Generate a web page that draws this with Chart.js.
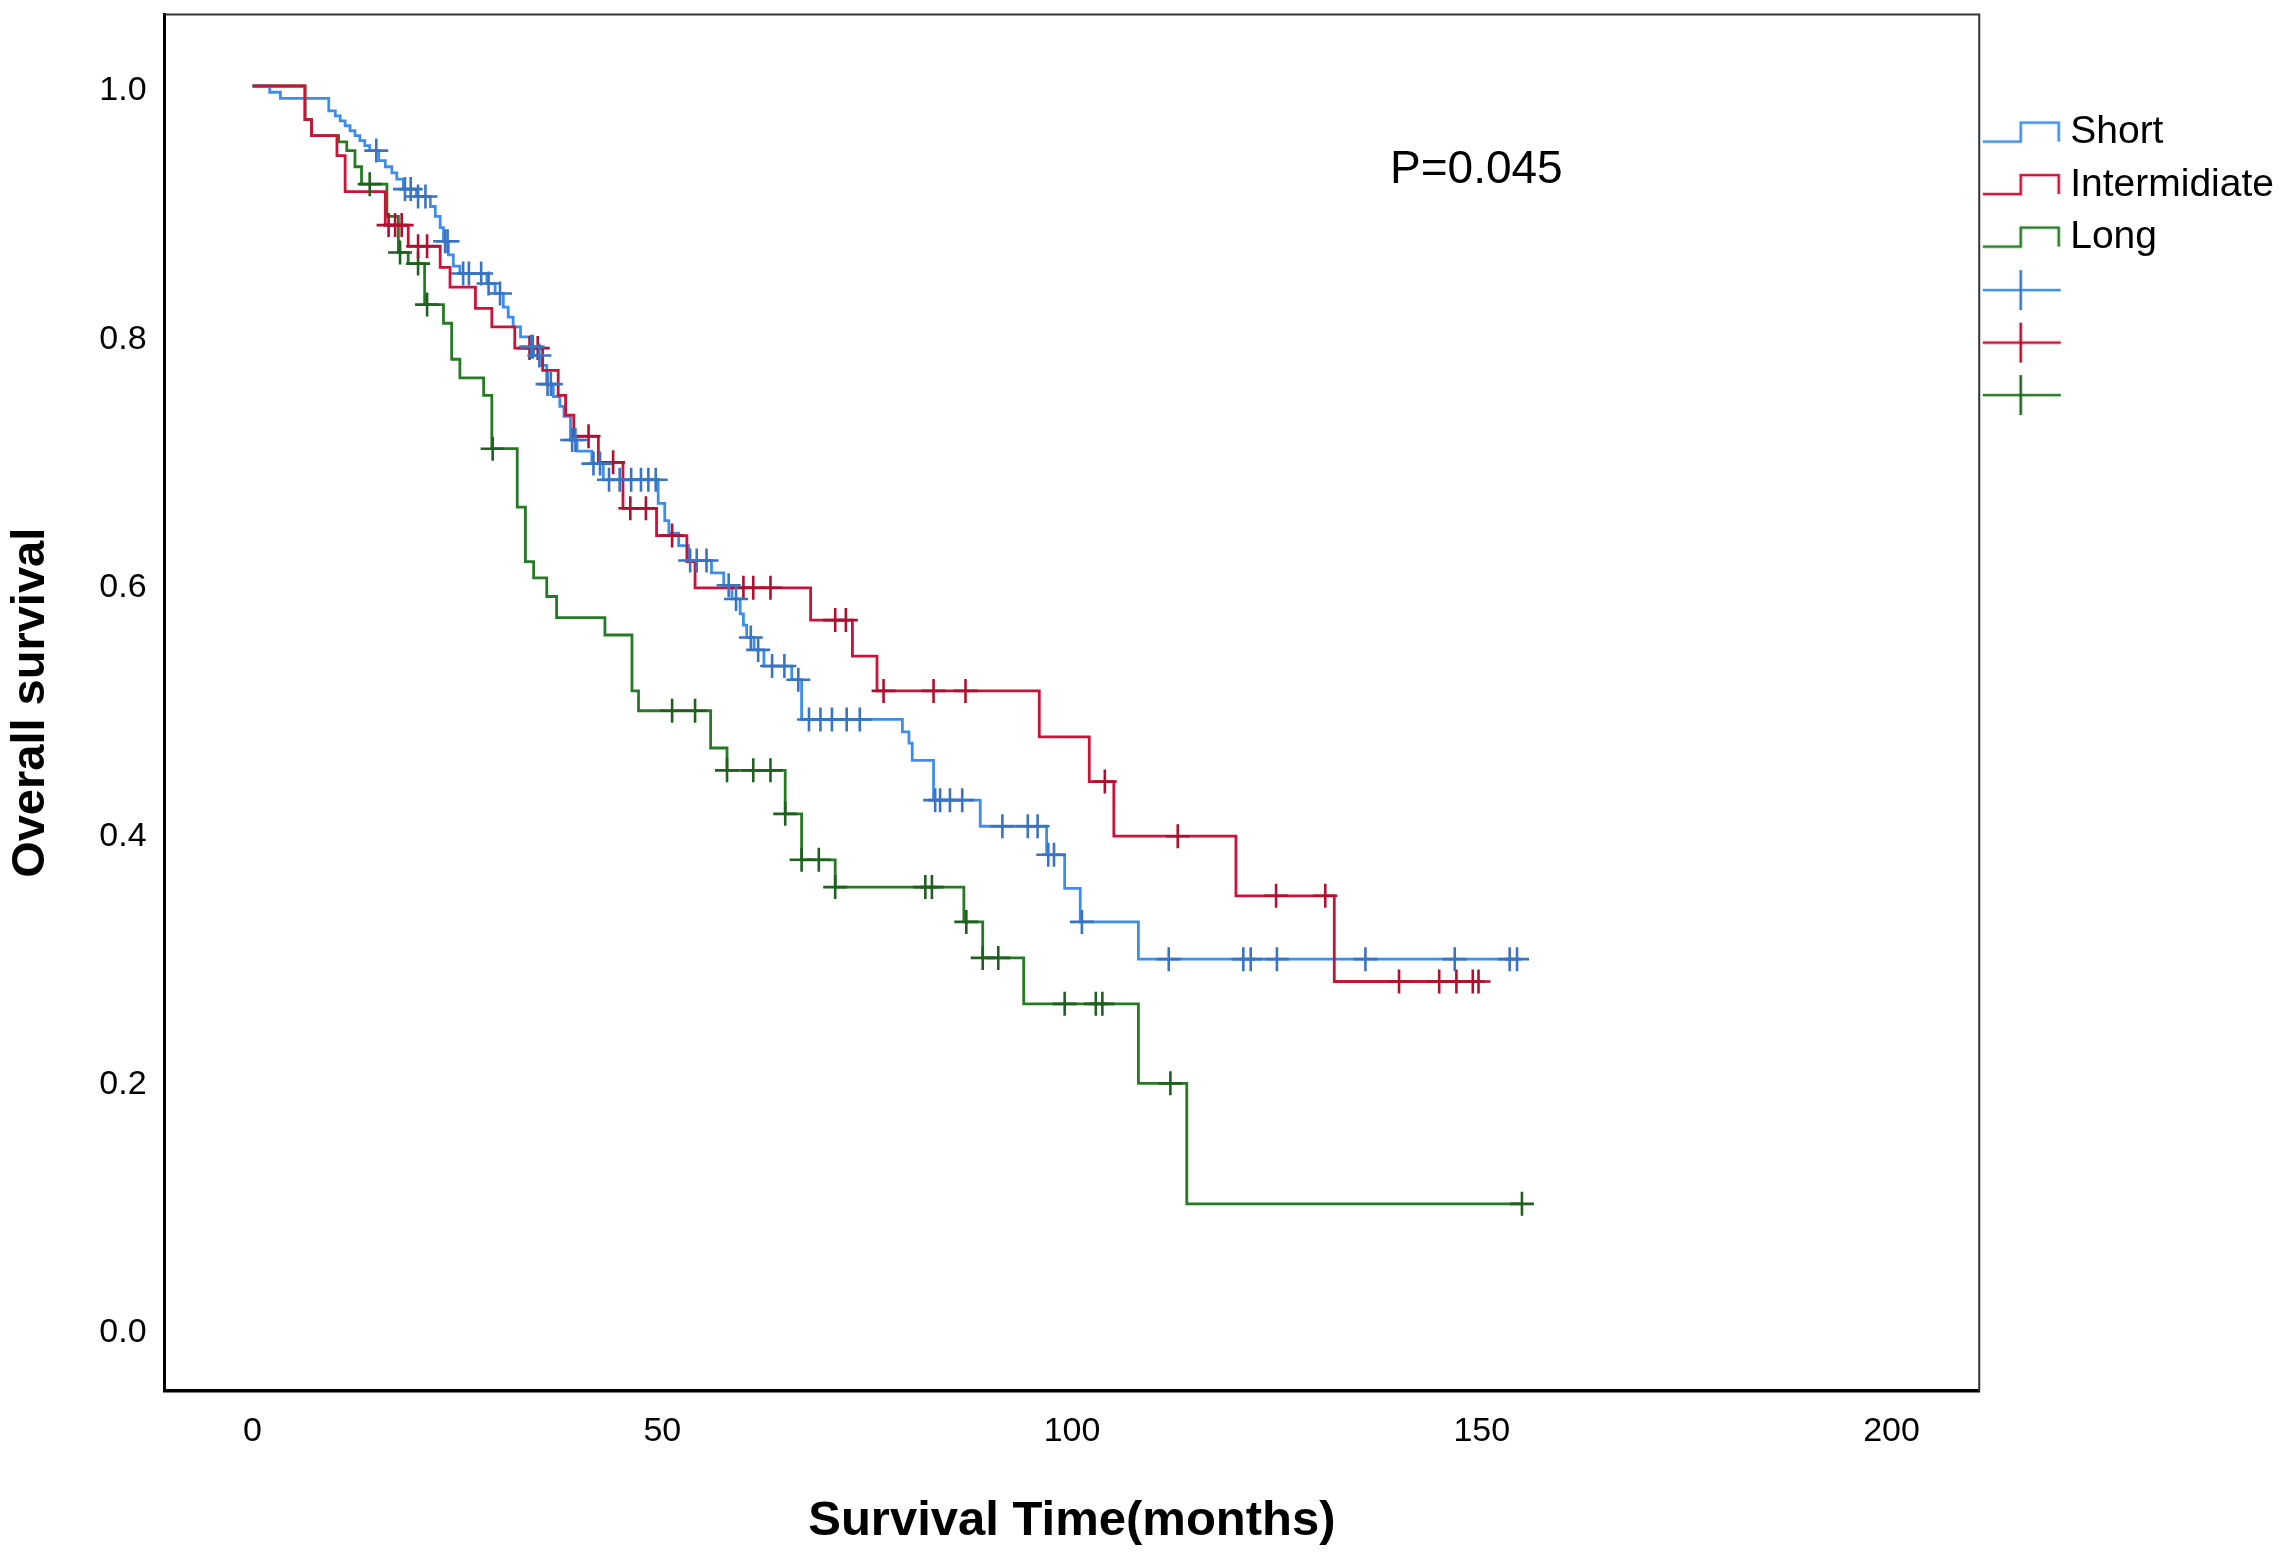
<!DOCTYPE html>
<html>
<head>
<meta charset="utf-8">
<style>
html,body{margin:0;padding:0;background:#ffffff;}
#wrap{width:2284px;height:1554px;position:relative;}
</style>
<script src="https://cdn.jsdelivr.net/npm/chart.js@4.4.1/dist/chart.umd.min.js"></script>
</head>
<body>
<div id="wrap"><canvas id="c"></canvas></div>
<script>
// ---------- data (months, survival) ----------
const groupLabels = ['Short', 'Intermidiate', 'Long'];

const shortTimes = [0, 2.1, 3.4, 9.3, 10.1, 10.7, 11.3, 11.9, 12.5, 13.1, 13.7, 14.3, 15.4, 16.2, 17.0, 17.6, 18.4, 20.0, 21.7, 22.3, 22.9, 23.3, 23.9, 24.5, 25.3, 28.6, 29.6, 30.6, 31.2, 31.8, 32.7, 33.9, 34.3, 35.3, 35.9, 36.7, 37.5, 38.0, 38.8, 39.6, 41.4, 42.8, 49.5, 50.3, 50.8, 52.0, 53.2, 56.0, 57.5, 58.5, 59.5, 59.9, 60.3, 61.2, 62.4, 65.8, 67.0, 79.3, 80.1, 80.5, 83.1, 88.8, 96.9, 99.1, 101.0, 108.1];
const shortSurv = [1.0, 0.995, 0.990, 0.980, 0.976, 0.972, 0.968, 0.964, 0.960, 0.956, 0.952, 0.948, 0.940, 0.935, 0.930, 0.925, 0.917, 0.911, 0.903, 0.895, 0.886, 0.875, 0.864, 0.855, 0.849, 0.841, 0.833, 0.822, 0.814, 0.806, 0.798, 0.790, 0.783, 0.775, 0.760, 0.750, 0.742, 0.734, 0.715, 0.706, 0.696, 0.683, 0.664, 0.650, 0.640, 0.630, 0.618, 0.608, 0.598, 0.587, 0.575, 0.566, 0.556, 0.546, 0.533, 0.522, 0.490, 0.480, 0.471, 0.457, 0.425, 0.404, 0.381, 0.354, 0.327, 0.297];
const shortEnd = 154.5;
const shortCensor = [15.1, 18.6, 19.3, 20.2, 21.1, 23.5, 23.8, 25.7, 26.4, 27.9, 28.8, 30.2, 34.0, 34.2, 35.0, 36.0, 36.4, 39.0, 39.4, 41.6, 42.4, 43.5, 44.8, 46.2, 47.4, 48.3, 49.2, 53.4, 54.2, 55.4, 58.1, 59.0, 60.8, 61.7, 63.4, 64.9, 66.6, 67.9, 69.3, 70.7, 72.5, 74.1, 83.3, 83.9, 85.1, 86.6, 91.5, 94.6, 95.8, 97.1, 97.8, 101.2, 111.8, 120.9, 121.8, 125.0, 135.8, 146.7, 153.4, 154.3];

const interTimes = [0, 6.4, 7.2, 10.3, 11.3, 16.2, 19.0, 22.9, 24.1, 27.2, 29.2, 32.0, 35.4, 37.3, 38.2, 39.2, 42.2, 45.2, 49.3, 53.0, 54.0, 68.1, 73.2, 76.2, 96.0, 102.1, 105.1, 120.0, 132.0];
const interSurv = [1.0, 0.973, 0.960, 0.944, 0.915, 0.888, 0.871, 0.854, 0.838, 0.821, 0.806, 0.789, 0.771, 0.751, 0.735, 0.718, 0.697, 0.660, 0.638, 0.617, 0.596, 0.570, 0.541, 0.513, 0.476, 0.440, 0.396, 0.348, 0.279];
const interEnd = 149.7;
const interCensor = [16.6, 17.4, 18.2, 20.2, 21.3, 33.8, 34.8, 41.0, 44.0, 46.1, 48.0, 51.2, 59.9, 61.1, 63.2, 71.1, 72.4, 77.0, 83.1, 87.0, 104.0, 112.9, 124.9, 130.9, 139.9, 144.8, 146.9, 148.9, 149.6];

const longTimes = [0, 6.4, 7.2, 10.5, 11.5, 12.5, 13.3, 16.4, 17.8, 19.0, 21.0, 23.3, 24.3, 25.3, 28.2, 29.2, 32.3, 33.3, 34.3, 35.9, 37.1, 43.0, 46.3, 47.1, 55.9, 57.9, 65.0, 67.0, 71.1, 86.8, 89.1, 94.1, 108.1, 114.0];
const longSurv = [1.0, 0.973, 0.960, 0.955, 0.948, 0.935, 0.921, 0.895, 0.866, 0.857, 0.824, 0.809, 0.780, 0.765, 0.751, 0.708, 0.661, 0.617, 0.604, 0.589, 0.572, 0.558, 0.513, 0.497, 0.467, 0.449, 0.414, 0.377, 0.355, 0.327, 0.298, 0.261, 0.197, 0.100];
const longEnd = 154.9;
const longCensor = [14.3, 18.0, 20.2, 21.3, 29.3, 51.2, 54.0, 57.9, 61.1, 63.2, 65.0, 67.0, 69.1, 71.1, 82.1, 82.9, 87.1, 89.1, 91.0, 99.1, 102.9, 103.7, 112.0, 154.9];

const xTicks = [0, 50, 100, 150, 200];
const yTicks = [0.0, 0.2, 0.4, 0.6, 0.8, 1.0];
const xTitle = 'Survival Time(months)';
const yTitle = 'Overall survival';
const pValueText = 'P=0.045';

// ---------- styling ----------
const colShort = '#3d8ee8';
const colInter = '#cc1238';
const colLong = '#267a26';
const tickShort = '#3a74c0';
const tickInter = '#b01030';
const tickLong = '#1f5f1f';
const FONT = '"Liberation Sans", Arial, Helvetica, sans-serif';

// ---------- helpers ----------
function survAt(times, surv, t) {
  let s = surv[0];
  for (let i = 0; i < times.length; i++) { if (times[i] <= t) s = surv[i]; }
  return s;
}
function stepPoints(times, surv, end) {
  const pts = times.map((t, i) => ({x: t, y: surv[i]}));
  pts.push({x: end, y: surv[surv.length - 1]});
  return pts;
}
function censorPoints(times, surv, cens) {
  return cens.map(t => ({x: t, y: survAt(times, surv, t)}));
}
function stepIcon(color) {
  const c = document.createElement('canvas');
  c.width = 80; c.height = 26;
  const g = c.getContext('2d');
  g.strokeStyle = color; g.lineWidth = 2.6;
  g.beginPath();
  g.moveTo(1, 22); g.lineTo(39, 22); g.lineTo(39, 3); g.lineTo(77, 3); g.lineTo(77, 22);
  g.stroke();
  return c;
}
function crossIcon(color, vcolor) {
  const c = document.createElement('canvas');
  c.width = 80; c.height = 44;
  const g = c.getContext('2d');
  g.lineWidth = 2.6;
  g.strokeStyle = color;
  g.beginPath(); g.moveTo(1, 22); g.lineTo(79, 22); g.stroke();
  g.strokeStyle = vcolor;
  g.beginPath(); g.moveTo(39, 2); g.lineTo(39, 42); g.stroke();
  return c;
}

const legendIcons = [
  {text: groupLabels[0], img: stepIcon(colShort)},
  {text: groupLabels[1], img: stepIcon(colInter)},
  {text: groupLabels[2], img: stepIcon(colLong)},
  {text: '', img: crossIcon(colShort, tickShort)},
  {text: '', img: crossIcon(colInter, tickInter)},
  {text: '', img: crossIcon(colLong, tickLong)}
];

const lineDs = (label, pts, color) => ({
  label, data: pts, showLine: true, stepped: 'before',
  borderColor: color, borderWidth: 2.8, pointRadius: 0, fill: false
});
const censDs = (label, pts, color) => ({
  label, data: pts, showLine: false,
  pointStyle: 'cross', pointRadius: 12, pointBorderWidth: 2.6,
  pointBorderColor: color, pointBackgroundColor: color, borderColor: color
});

const framePlugin = {
  id: 'frame',
  afterDraw(chart) {
    const {ctx, chartArea: a, scales} = chart;
    ctx.save();
    ctx.strokeStyle = '#333';
    ctx.lineWidth = 2;
    ctx.beginPath();
    ctx.moveTo(a.left, a.top); ctx.lineTo(a.right, a.top); ctx.lineTo(a.right, a.bottom);
    ctx.stroke();
    ctx.fillStyle = '#000';
    ctx.font = '46px ' + FONT;
    ctx.textAlign = 'left';
    ctx.textBaseline = 'middle';
    ctx.fillText(pValueText, scales.x.getPixelForValue(138.8), scales.y.getPixelForValue(0.932));
    ctx.restore();
  }
};

new Chart(document.getElementById('c'), {
  type: 'scatter',
  data: {
    datasets: [
      censDs('Short censored', censorPoints(shortTimes, shortSurv, shortCensor), tickShort),
      censDs('Intermidiate censored', censorPoints(interTimes, interSurv, interCensor), tickInter),
      censDs('Long censored', censorPoints(longTimes, longSurv, longCensor), tickLong),
      lineDs(groupLabels[1], stepPoints(interTimes, interSurv, interEnd), colInter),
      lineDs(groupLabels[0], stepPoints(shortTimes, shortSurv, shortEnd), colShort),
      lineDs(groupLabels[2], stepPoints(longTimes, longSurv, longEnd), colLong)
    ]
  },
  options: {
    responsive: true,
    maintainAspectRatio: false,
    devicePixelRatio: 1,
    animation: false,
    events: [],
    layout: {padding: {top: 14.6, left: 0, right: 0, bottom: 0}},
    plugins: {
      tooltip: {enabled: false},
      legend: {
        display: true,
        position: 'right',
        align: 'start',
        onClick: null,
        title: {display: true, text: ' ', font: {size: 10}, padding: {top: 73, bottom: 0}},
        labels: {
          usePointStyle: true,
          pointStyleWidth: 58,
          padding: 13.5,
          color: '#000',
          font: {family: FONT, size: 39},
          generateLabels: () => legendIcons.map((it, i) => ({
            text: it.text, pointStyle: it.img, fillStyle: 'rgba(0,0,0,0)',
            strokeStyle: 'rgba(0,0,0,0)', fontColor: '#000', lineWidth: 0, hidden: false, datasetIndex: i
          }))
        }
      }
    },
    scales: {
      x: {
        type: 'linear',
        min: -10.73,
        max: 210.7,
        afterBuildTicks: (axis) => { axis.ticks = xTicks.map(v => ({value: v})); },
        afterFit: (s) => { s.height = 163; s.paddingLeft = 0; s.paddingRight = 0; },
        grid: {display: false, drawTicks: false},
        border: {display: true, color: '#000', width: 3.5},
        ticks: {color: '#000', padding: 20, font: {family: FONT, size: 34}, maxRotation: 0, callback: (v) => String(v)},
        title: {display: true, text: xTitle, color: '#000', font: {family: FONT, size: 49, weight: 'bold'}, padding: {top: 0, bottom: 3}}
      },
      y: {
        type: 'linear',
        min: -0.0507,
        max: 1.0575,
        afterBuildTicks: (axis) => { axis.ticks = yTicks.map(v => ({value: v})); },
        afterFit: (s) => { s.width = 164.6; s.paddingTop = 0; s.paddingBottom = 0; },
        grid: {display: false, drawTicks: false},
        border: {display: true, color: '#000', width: 3},
        ticks: {color: '#000', padding: 18, labelOffset: 5, font: {family: FONT, size: 34}, callback: (v) => Number(v).toFixed(1)},
        title: {display: true, text: yTitle, color: '#000', font: {family: FONT, size: 47, weight: 'bold'}, padding: {top: 3, bottom: 0}}
      }
    }
  },
  plugins: [framePlugin]
});
</script>
</body>
</html>
